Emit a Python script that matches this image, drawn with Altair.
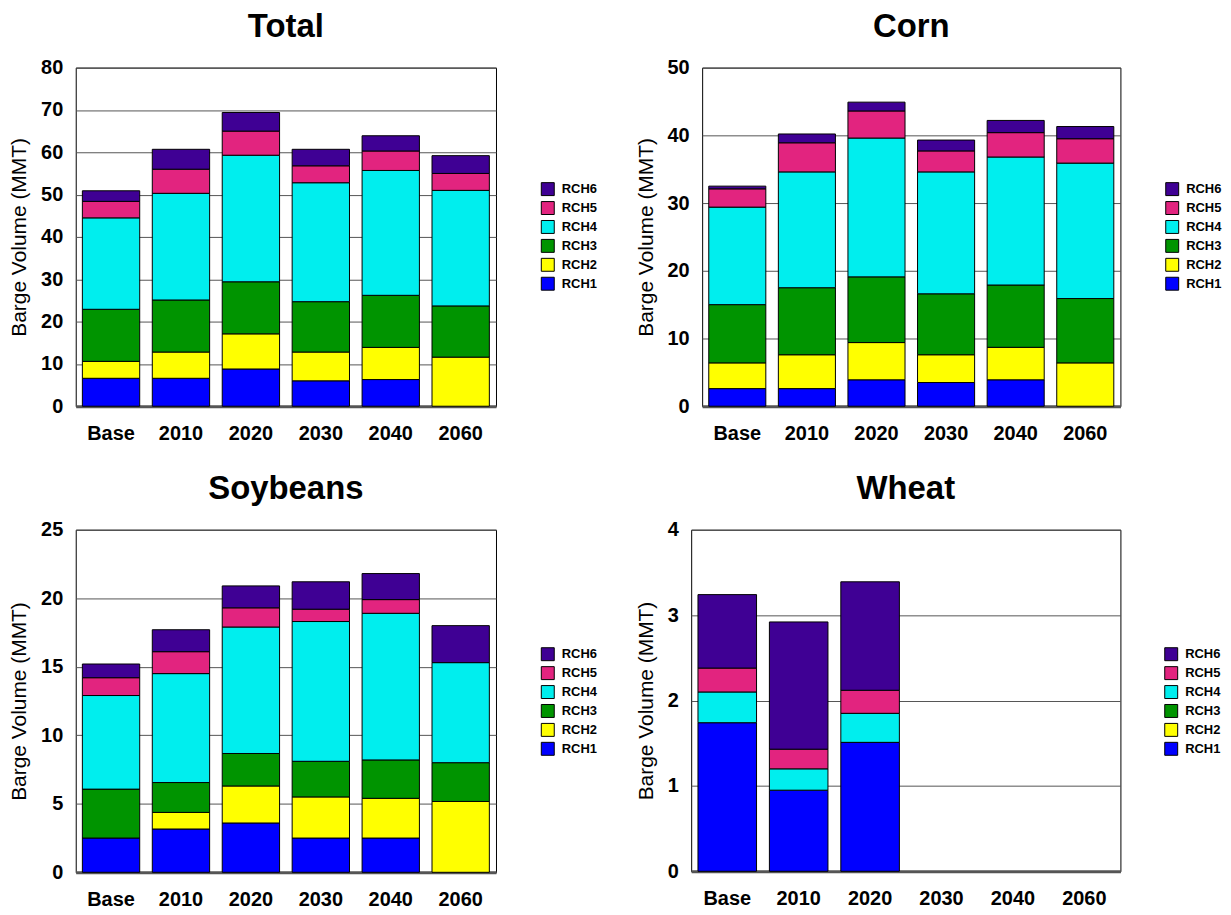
import altair as alt
import pandas as pd

years = ["Base", "2010", "2020", "2030", "2040", "2060"]
reaches = ["RCH1", "RCH2", "RCH3", "RCH4", "RCH5", "RCH6"]
colors = ["#0000FF", "#FFFF00", "#009400", "#00EEEE", "#E2247F", "#3F0094"]

# segment values per reach (RCH1..RCH6), one list entry per year
total_vals = {
    "RCH1": [6.6, 6.6, 8.8, 6.0, 6.3, 0.0],
    "RCH2": [4.0, 6.2, 8.3, 6.8, 7.6, 11.6],
    "RCH3": [12.3, 12.3, 12.3, 11.9, 12.3, 12.1],
    "RCH4": [21.6, 25.2, 29.9, 28.1, 29.5, 27.3],
    "RCH5": [3.9, 5.7, 5.7, 4.0, 4.6, 4.0],
    "RCH6": [2.5, 4.7, 4.4, 3.9, 3.6, 4.2],
}
corn_vals = {
    "RCH1": [2.6, 2.6, 3.9, 3.5, 3.9, 0.0],
    "RCH2": [3.8, 5.0, 5.5, 4.1, 4.8, 6.4],
    "RCH3": [8.6, 9.9, 9.7, 9.0, 9.2, 9.5],
    "RCH4": [14.4, 17.1, 20.5, 18.0, 18.9, 20.0],
    "RCH5": [2.7, 4.3, 4.0, 3.1, 3.6, 3.6],
    "RCH6": [0.4, 1.3, 1.3, 1.6, 1.8, 1.8],
}
soy_vals = {
    "RCH1": [2.5, 3.16, 3.6, 2.5, 2.5, 0.0],
    "RCH2": [0.0, 1.21, 2.7, 3.0, 2.9, 5.17],
    "RCH3": [3.57, 2.18, 2.37, 2.6, 2.8, 2.83],
    "RCH4": [6.83, 7.95, 9.23, 10.2, 10.7, 7.3],
    "RCH5": [1.3, 1.6, 1.4, 0.9, 1.0, 0.0],
    "RCH6": [1.0, 1.6, 1.6, 2.0, 1.9, 2.7],
}
wheat_vals = {
    "RCH1": [1.74, 0.95, 1.51, 0.0, 0.0, 0.0],
    "RCH2": [0.0, 0.0, 0.0, 0.0, 0.0, 0.0],
    "RCH3": [0.0, 0.0, 0.0, 0.0, 0.0, 0.0],
    "RCH4": [0.36, 0.25, 0.34, 0.0, 0.0, 0.0],
    "RCH5": [0.28, 0.23, 0.27, 0.0, 0.0, 0.0],
    "RCH6": [0.86, 1.49, 1.27, 0.0, 0.0, 0.0],
}

FONT = "Liberation Sans"


def make_df(vals):
    rows = []
    for i, r in enumerate(reaches):
        for y, v in zip(years, vals[r]):
            rows.append({"year": y, "reach": r, "idx": i + 1, "value": v})
    return pd.DataFrame(rows)


def panel(title, vals, ymax, step, width, height, lx, ly):
    df = make_df(vals)
    ticks = [step * k for k in range(int(round(ymax / step)) + 1)]
    return (
        alt.Chart(df, title=alt.Title(title, fontSize=33, fontWeight="bold", font=FONT, offset=14))
        .transform_filter(alt.datum.value > 0)
        .mark_bar(stroke="black", strokeWidth=1)
        .encode(
            x=alt.X("year:N", sort=years, title=None,
                    scale=alt.Scale(domain=years, paddingInner=0.18, paddingOuter=0.095),
                    axis=alt.Axis(labelAngle=0, ticks=False, domain=True, domainColor="#555555",
                                  domainWidth=3, labelPadding=17, labelFontSize=20,
                                  labelFontWeight="bold", labelFont=FONT, labelColor="black", grid=False)),
            y=alt.Y("value:Q", stack="zero", title="Barge Volume (MMT)",
                    scale=alt.Scale(domain=[0, ymax], nice=False),
                    axis=alt.Axis(values=ticks, grid=True, gridColor="#555555", gridWidth=1,
                                  domain=False, ticks=False, labelPadding=13, labelFontSize=20,
                                  labelFontWeight="bold", labelFont=FONT, labelColor="black",
                                  titleFontSize=21, titleFontWeight="normal", titleFont=FONT,
                                  titleColor="black", titlePadding=11)),
            color=alt.Color("reach:N", title=None,
                            scale=alt.Scale(domain=reaches[::-1], range=colors[::-1]),
                            legend=alt.Legend(orient="none", legendX=lx, legendY=ly,
                                              symbolType="square", symbolSize=169,
                                              symbolStrokeColor="black", symbolStrokeWidth=1,
                                              labelFontSize=13, labelFontWeight="bold",
                                              labelFont=FONT, labelColor="black",
                                              labelOffset=7, rowPadding=1, padding=0)),
            order=alt.Order("idx:Q", sort="ascending"),
        )
        .properties(width=width, height=height)
    )


p_total = panel("Total", total_vals, 80, 10, 422, 340, 467, 115)
p_corn = panel("Corn", corn_vals, 50, 10, 420, 340, 465, 115)
p_soy = panel("Soybeans", soy_vals, 25, 5, 422, 344, 467, 118)
p_wheat = panel("Wheat", wheat_vals, 4, 1, 431, 343, 475, 118)

row1 = alt.hconcat(p_total, p_corn, spacing=36).resolve_scale(color="independent", y="independent").resolve_legend(color="independent")
row2 = alt.hconcat(p_soy, p_wheat, spacing=36).resolve_scale(color="independent", y="independent").resolve_legend(color="independent")

chart = (
    alt.vconcat(row1, row2, spacing=28)
    .resolve_scale(color="independent", y="independent")
    .resolve_legend(color="independent")
    .configure(background="white", padding=0)
    .configure_view(stroke="black", strokeWidth=1)
)

chart.save("out.html", embed_options={"renderer": "svg", "actions": False})
